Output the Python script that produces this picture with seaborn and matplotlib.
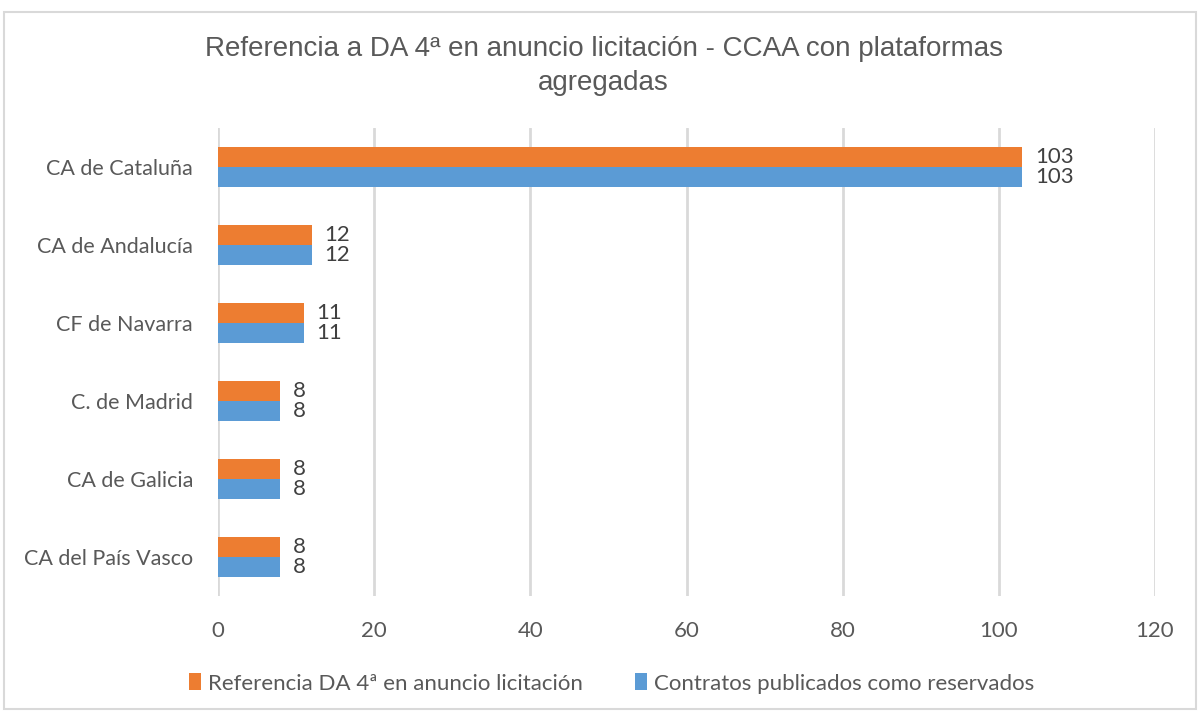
import pandas as pd
import matplotlib.pyplot as plt
import seaborn as sns
from matplotlib.patches import Rectangle

# Datos
comunidades = ["CA de Cataluña", "CA de Andalucía", "CF de Navarra",
               "C. de Madrid", "CA de Galicia", "CA del País Vasco"]
referencia_da4 = [103, 12, 11, 8, 8, 8]
contratos_reservados = [103, 12, 11, 8, 8, 8]
serie_nombres = ["Referencia DA 4ª en anuncio licitación",
                 "Contratos publicados como reservados"]
colores = ["#ED7D31", "#5B9BD5"]

df = pd.DataFrame({
    "comunidad": comunidades * 2,
    "valor": referencia_da4 + contratos_reservados,
    "serie": [serie_nombres[0]] * len(comunidades) + [serie_nombres[1]] * len(comunidades),
})

sns.set_style("white")
fuente = ["Lato", "DejaVu Sans"]
plt.rcParams["font.family"] = fuente

fig = plt.figure(figsize=(12, 7.11), dpi=100)
ax = fig.add_axes([218 / 1200, 1 - 596 / 711, (1155 - 218) / 1200, (596 - 128) / 711])

sns.barplot(
    data=df, x="valor", y="comunidad", hue="serie",
    hue_order=serie_nombres, palette=colores, orient="h",
    width=0.51, saturation=1, linewidth=0, ax=ax, legend=True
)

for cont in ax.containers:
    ax.bar_label(cont, padding=9, fontsize=16, color="#404040")

ax.set_xlim(0, 120)
ax.set_xticks(range(0, 121, 20))
ax.xaxis.grid(True, color="#D9D9D9", linewidth=2)
ax.set_axisbelow(True)
for s in ax.spines.values():
    s.set_visible(False)
ax.set_xlabel("")
ax.set_ylabel("")
ax.tick_params(axis="both", length=0, labelcolor="#595959")
ax.tick_params(axis="x", pad=18, labelsize=16)
ax.tick_params(axis="y", pad=18, labelsize=15.5)

ax.legend(loc="center", bbox_to_anchor=(0.42, -0.187), ncol=2, frameon=False,
          handlelength=0.55, handleheight=0.8, handletextpad=0.3,
          columnspacing=2.35, labelcolor="#595959",
          prop={"family": fuente, "size": 16})

fig.text(0.503, 0.907, "Referencia a DA 4ª en anuncio licitación - CCAA con plataformas\nagregadas",
         ha="center", va="center", fontsize=20, color="#595959", linespacing=1.42,
         family=["Liberation Sans Narrow", "Liberation Sans", "DejaVu Sans"])

fig.patches.append(Rectangle((4 / 1200, 2 / 711), 1192 / 1200, 697 / 711,
                             transform=fig.transFigure, fill=False,
                             edgecolor="#D9D9D9", linewidth=1.5))

fig.savefig("out.png", dpi=100)
